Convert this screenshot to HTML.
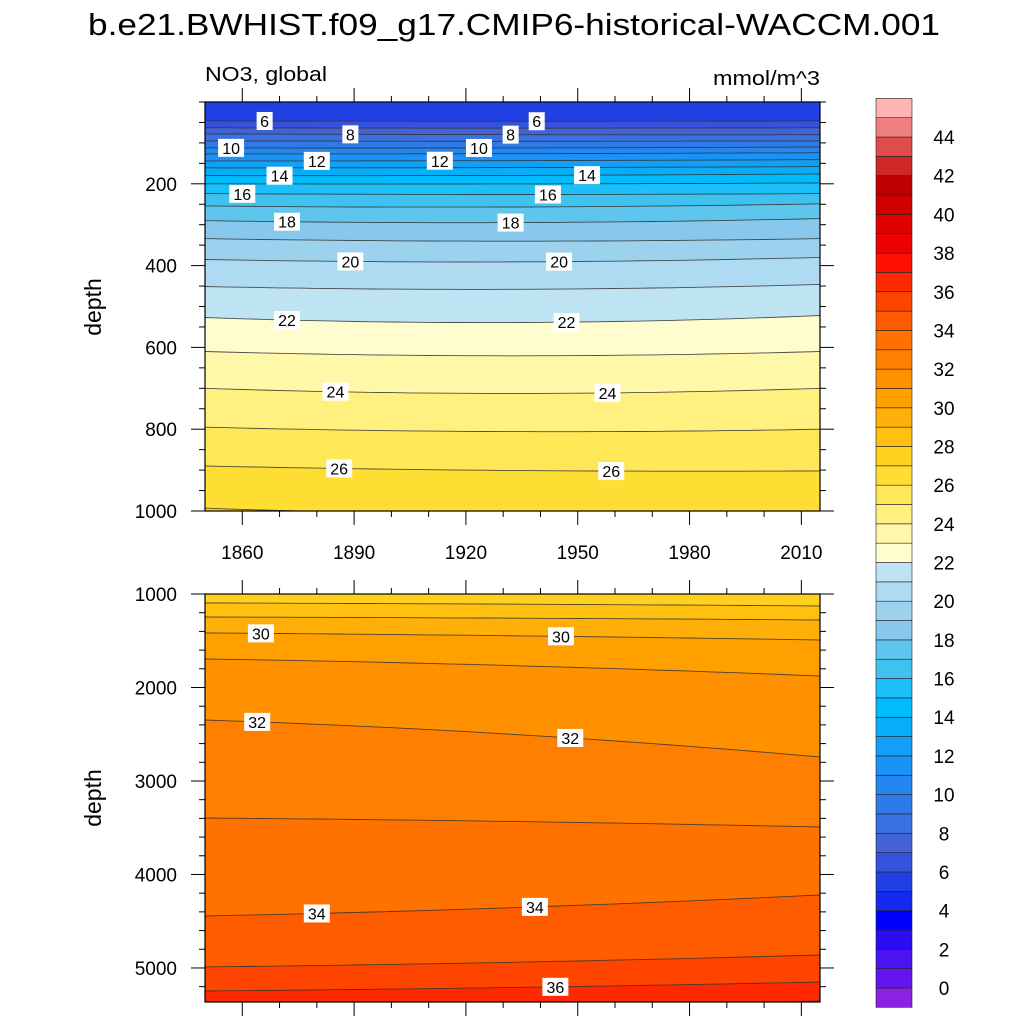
<!DOCTYPE html>
<html><head><meta charset="utf-8"><style>
html,body{margin:0;padding:0;background:#fff;}
svg{display:block;font-family:"Liberation Sans",sans-serif;}
</style></head><body>
<svg id="chart" width="1024" height="1024" viewBox="0 0 1024 1024" xmlns="http://www.w3.org/2000/svg">
<text x="514" y="35" font-size="31" text-anchor="middle" textLength="852" lengthAdjust="spacingAndGlyphs">b.e21.BWHIST.f09_g17.CMIP6-historical-WACCM.001</text>
<text x="205" y="81" font-size="20" textLength="122" lengthAdjust="spacingAndGlyphs">NO3, global</text>
<text x="713" y="85" font-size="20" textLength="107" lengthAdjust="spacingAndGlyphs">mmol/m^3</text>
<text transform="translate(101,307) rotate(-90)" font-size="23" text-anchor="middle">depth</text>
<text transform="translate(101,798) rotate(-90)" font-size="23" text-anchor="middle">depth</text>
<g id="top"></g>
<g id="bot"></g>
<g id="cbar"></g>
</svg>
<script>
// ---- data ----
const years = [1850, 1950, 2015];
const topLevels = [6,7,8,9,10,11,12,13,14,15,16,17,18,19,20,21,22,23,24,25,26,27];
const topDepth1850 = [46,63,78,95,112,127,144,161,180,200,224,254,290,334,385,451,527,610,700,795,890,993];
const topDepth1950 = [47,64,80,96,112,126,143,160,179,200,226,256,294,340,390,457,538,620,712,806,902,1010];
const topDepth2015 = [46,63,80,95,110,124,141,158,176,198,224,249,285,334,380,446,522,610,700,800,902,1005];
const botLevels = [28,29,30,31,32,33,34,35,36,37];
const botDepth1850 = [1096,1246,1417,1695,2348,3396,4444,4989,5246,5500];
const botDepth1950 = [1112,1262,1455,1786,2545,3444,4330,4925,5198,5420];
const botDepth2015 = [1128,1278,1492,1877,2743,3492,4219,4861,5150,5353];
const topLabels = [[1866,6],[1889,8],[1857,10],[1880,12],[1870,14],[1860,16],[1872,18],[1889,20],[1872,22],[1885,24],[1886,26],
  [1939,6],[1932,8],[1923.5,10],[1913,12],[1952.5,14],[1942,16],[1932,18],[1945,20],[1947,22],[1958,24],[1959,26]];
const botLabels = [[1865,30],[1864,32],[1880,34],[1945.5,30],[1948,32],[1938.5,34],[1944,36]];
const xTickLabels = [1860,1890,1920,1950,1980,2010];
const topYTicks = [200,400,600,800,1000];
const botYTicks = [1000,2000,3000,4000,5000];
const cbarLabels = [0,2,4,6,8,10,12,14,16,18,20,22,24,26,28,30,32,34,36,38,40,42,44];
const bandColors = ["#8a22e6","#6414ee","#4a14f0","#2a0cf6","#0000ff","#1428ee","#2040e6","#3452dc","#4262d8","#3a70e0","#2e7ae8","#2486f0","#1a92f6","#129ff8","#08adf8","#00bcfc","#1cc0f8","#40c2f0","#5ec6ec","#88c8ec","#9cd2ee","#aedaf2","#bee4f4","#fffdd0","#fff8a8","#fff080","#ffe858","#ffde34","#ffd020","#ffc010","#ffb008","#ffa000","#ff9000","#ff8000","#ff7200","#ff5c00","#ff4400","#ff2800","#ff1000","#f00000","#e00000","#d00000","#c00000","#d02828","#e04c4c","#f08080","#ffb4b4"];
// ---- helpers ----
const NS="http://www.w3.org/2000/svg";
function mk(tag,attrs,parent){const e=document.createElementNS(NS,tag);for(const k in attrs)e.setAttribute(k,attrs[k]);parent.appendChild(e);return e;}
function colorFor(level){return bandColors[level+1];}
const X0=205,X1=820,YR0=1850,YR1=2015;
const xs=y=>X0+(y-YR0)/(YR1-YR0)*(X1-X0);
function lineDepth(d0,d1,d2,yr){
  const [a,b,c]=years;
  return d0*(yr-b)*(yr-c)/((a-b)*(a-c))+d1*(yr-a)*(yr-c)/((b-a)*(b-c))+d2*(yr-a)*(yr-b)/((c-a)*(c-b));
}

function panel(g,name,T,B,D0,D1,levels,dA,dB,dC,labels,yticks,minorStep,showX){
  const ys=d=>T+(d-D0)/(D1-D0)*(B-T);
  const cp=mk('clipPath',{id:'clip'+name},g);
  mk('rect',{x:X0,y:T,width:X1-X0,height:B-T},cp);
  const fill=mk('g',{'clip-path':'url(#clip'+name+')'},g);
  const bg=mk('rect',{x:X0,y:T,width:X1-X0,height:B-T,fill:colorFor(levels[0]-1)},fill);
  
  
  const pts=[];
  for(let i=0;i<levels.length;i++){
    const p=[];
    for(let yr=YR0;yr<=YR1;yr+=5){p.push([xs(yr),ys(lineDepth(dA[i],dB[i],dC[i],yr))]);}
    pts.push(p);
    const poly=p.map(q=>q[0].toFixed(1)+','+q[1].toFixed(1)).join(' ')+' '+X1+','+(B+50)+' '+X0+','+(B+50);
    const b=mk('polygon',{points:poly,fill:colorFor(levels[i])},fill);
    
    
  }
  for(let i=0;i<levels.length;i++){
    const l=mk('polyline',{points:pts[i].map(q=>q[0].toFixed(1)+','+q[1].toFixed(1)).join(' '),fill:'none',stroke:'#333','stroke-width':0.9,'stroke-opacity':0.85},fill);
    
    
  }
  labels.forEach(([yr,lv])=>{
    const i=levels.indexOf(lv); if(i<0) return;
    const x=xs(yr), y=ys(lineDepth(dA[i],dB[i],dC[i],yr));
    const w=String(lv).length*10+6;
    const r=mk('rect',{x:x-w/2,y:y-9,width:w,height:18,fill:'#fff'},fill);
    
    
    const t=mk('text',{x:x,y:y+6,'font-size':16,'text-anchor':'middle'},fill);
    t.textContent=lv;
    
    
  });
  const fr=mk('rect',{x:X0,y:T,width:X1-X0,height:B-T,fill:'none',stroke:'#000','stroke-width':1.2},g);
  
  
  for(let yr=1860;yr<=2010;yr+=10){
    const maj=(yr-1860)%30===0, L=maj?14:6, x=xs(yr);
    mk('line',{x1:x,x2:x,y1:T,y2:T-L,stroke:'#000','stroke-width':1},g);
    mk('line',{x1:x,x2:x,y1:B,y2:B+L,stroke:'#000','stroke-width':1},g);
  }
  if(showX) xTickLabels.forEach(v=>{const t=mk('text',{x:xs(v),y:B+48,'font-size':19,'text-anchor':'middle'},g);t.textContent=v;
    
    });
  for(let d=Math.ceil(D0/minorStep)*minorStep;d<=D1;d+=minorStep){
    const maj=yticks.includes(d), L=maj?14:6, y=ys(d);
    mk('line',{x1:X0,x2:X0-L,y1:y,y2:y,stroke:'#000','stroke-width':1},g);
    mk('line',{x1:X1,x2:X1+L,y1:y,y2:y,stroke:'#000','stroke-width':1},g);
  }
  yticks.forEach(v=>{const t=mk('text',{x:X0-28,y:ys(v)+7,'font-size':19,'text-anchor':'end'},g);t.textContent=v;
    
    });
}
panel(document.getElementById('top'),'T',102,511,0,1000,topLevels,topDepth1850,topDepth1950,topDepth2015,topLabels,topYTicks,50,true);
panel(document.getElementById('bot'),'B',594,1002,1000,5364,botLevels,botDepth1850,botDepth1950,botDepth2015,botLabels,botYTicks,200,false);
const cb=document.getElementById('cbar');
const CB_X=876,CB_W=36,CB_Z=988,CB_U=19.34;
for(let k=0;k<bandColors.length;k++){
  const lo=k-1; const y=CB_Z-(lo+1)*CB_U;
  const r=mk('rect',{x:CB_X,y:y,width:CB_W,height:CB_U,fill:bandColors[k],stroke:'#222','stroke-width':0.6},cb);
  
  
}
cbarLabels.forEach(v=>{const t=mk('text',{x:944,y:CB_Z-v*CB_U+7,'font-size':19,'text-anchor':'middle'},cb);t.textContent=v;
  
  });
</script>
</body></html>
